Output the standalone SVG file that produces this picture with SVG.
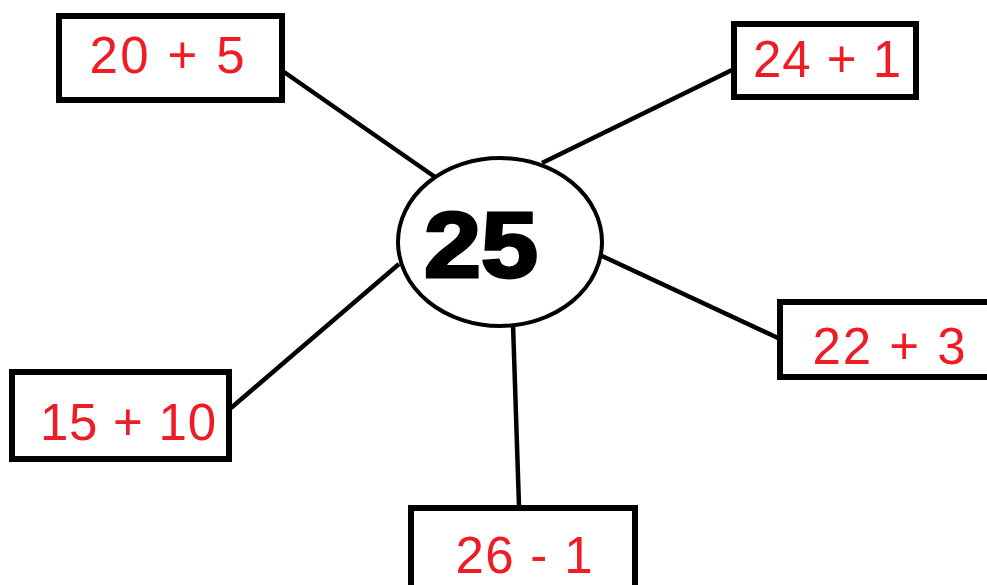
<svg xmlns="http://www.w3.org/2000/svg" width="987" height="585" viewBox="0 0 987 585">
<style>
.box{fill:#fff;stroke:#000;stroke-width:6}
.lbl{font-family:"Liberation Sans",Arial,sans-serif;font-size:51px;fill:#ee1c24;text-anchor:middle}
.edge{stroke:#000;stroke-width:4.5;fill:none}
</style>
<rect width="987" height="585" fill="#fff"/>
<g id="connectors">
<line class="edge" x1="284" y1="72" x2="435" y2="177"/>
<line class="edge" x1="542" y1="163" x2="732" y2="70"/>
<line class="edge" x1="602" y1="256" x2="778" y2="338"/>
<line class="edge" x1="399" y1="264" x2="231" y2="408"/>
<line class="edge" x1="513" y1="324" x2="519" y2="506"/>
</g>
<g id="center">
<ellipse cx="500" cy="242" rx="102" ry="84" fill="#fff" stroke="#000" stroke-width="4"/>
<text x="481" y="277" font-family="Liberation Sans,Arial,sans-serif" font-weight="bold" font-size="92" text-anchor="middle" fill="#000" stroke="#000" stroke-width="3" textLength="114" lengthAdjust="spacingAndGlyphs">25</text>
</g>
<g id="n1">
<rect class="box" x="59" y="16" width="223" height="84"/>
<text class="lbl" x="167" y="73" textLength="155" lengthAdjust="spacing">20 + 5</text>
</g>
<g id="n2">
<rect class="box" x="734" y="24" width="182" height="73"/>
<text class="lbl" x="827" y="77" textLength="148" lengthAdjust="spacing">24 + 1</text>
</g>
<g id="n3">
<rect class="box" x="12" y="372" width="217" height="87"/>
<text class="lbl" x="128" y="440" textLength="176" lengthAdjust="spacing">15 + 10</text>
</g>
<g id="n4">
<rect class="box" x="411" y="508" width="224" height="100"/>
<text class="lbl" x="524" y="573" textLength="137" lengthAdjust="spacing">26 - 1</text>
</g>
<g id="n5">
<rect class="box" x="780" y="302" width="220" height="75"/>
<text class="lbl" x="889" y="364" textLength="153" lengthAdjust="spacing">22 + 3</text>
</g>
</svg>
